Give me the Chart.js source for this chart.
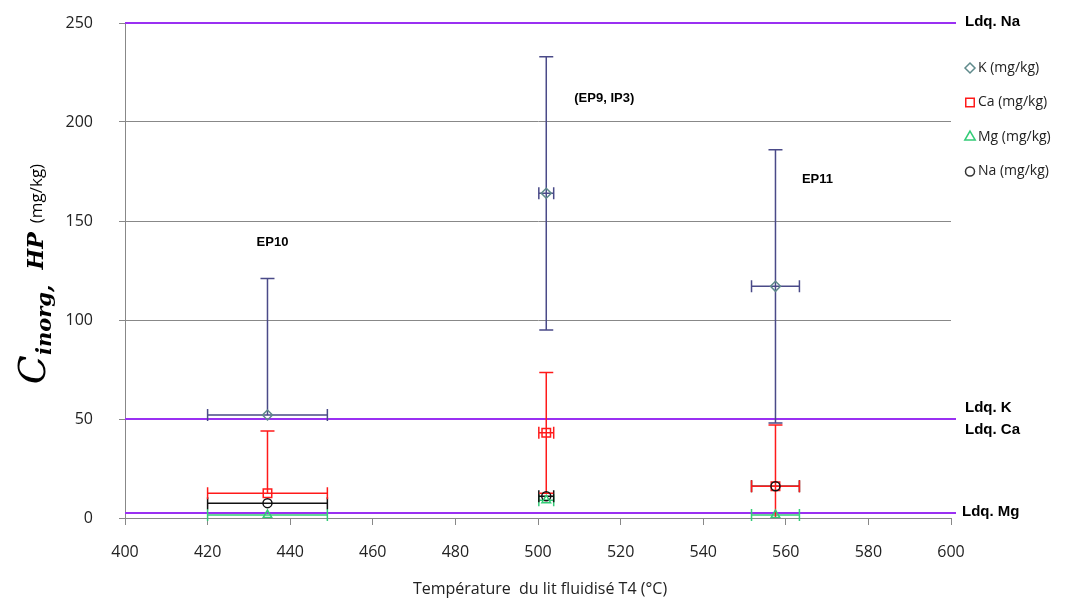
<!DOCTYPE html>
<html>
<head>
<meta charset="utf-8">
<script src="https://cdn.jsdelivr.net/npm/chart.js@4/dist/chart.umd.min.js"></script>
<style>
  html, body { margin: 0; padding: 0; background: #fff; }
  #wrap { width: 1066px; height: 599px; }
</style>
</head>
<body>
<div id="wrap"><canvas id="chart" width="1066" height="599"></canvas></div>
<script>
// valeurs
const tests = ['EP10', '(EP9, IP3)', 'EP11'];
const temps = [434.5, 502, 557.5];
const tempErr = [14.5, 1.8, 5.8];

const kVals = [52, 164, 117];
const kErrPlus = [69, 69, 69];
const kErrMinus = [0, 69, 69];

const caVals = [12.5, 43, 16];
const caErrPlus = [31.5, 30.5, 31];
const caErrMinus = [0, 30.5, 16];

const mgVals = [1.5, 9, 1.5];
const naVals = [7.5, 11, 16];

const ldqNames = ['Ldq. Na', 'Ldq. K', 'Ldq. Mg'];
const ldqVals = [250, 50, 2.5];

const xTicks = [400, 420, 440, 460, 480, 500, 520, 540, 560, 580, 600];
const yTicks = [0, 50, 100, 150, 200, 250];

const colK = '#4a4a88';
const colKpt = '#5f8a8b';
const colCa = '#ff1a1a';
const colMg = '#33cc77';
const colNa = '#111111';
const colLdq = '#9a30f2';

function pts(vals) {
    return temps.map((t, i) => ({ x: t, y: vals[i] }));
}

const errorSets = [
    { vals: mgVals, color: colMg, xErr: tempErr, yPlus: null, yMinus: null },
    { vals: naVals, color: colNa, xErr: tempErr, yPlus: null, yMinus: null },
    { vals: caVals, color: colCa, xErr: tempErr, yPlus: caErrPlus, yMinus: caErrMinus },
    { vals: kVals, color: colK, xErr: tempErr, yPlus: kErrPlus, yMinus: kErrMinus }
];

const extras = {
    id: 'extras',
    beforeDatasetsDraw(chart) {
        const ctx = chart.ctx;
        const xs = chart.scales.x, ys = chart.scales.y;
        const area = chart.chartArea;
        ctx.save();
        // lignes des limites de quantification
        ctx.strokeStyle = colLdq;
        ctx.lineWidth = 2;
        ldqVals.forEach(v => {
            const y = Math.round(ys.getPixelForValue(v));
            ctx.beginPath();
            ctx.moveTo(area.left, y);
            ctx.lineTo(area.right + 5, y);
            ctx.stroke();
        });
        // barres d'erreur
        ctx.lineWidth = 1.5;
        errorSets.forEach(s => {
            ctx.strokeStyle = s.color;
            temps.forEach((t, i) => {
                const px = xs.getPixelForValue(t);
                const py = ys.getPixelForValue(s.vals[i]);
                const x1 = xs.getPixelForValue(t - s.xErr[i]);
                const x2 = xs.getPixelForValue(t + s.xErr[i]);
                ctx.beginPath();
                ctx.moveTo(x1, py); ctx.lineTo(x2, py);
                ctx.moveTo(x1, py - 6); ctx.lineTo(x1, py + 6);
                ctx.moveTo(x2, py - 6); ctx.lineTo(x2, py + 6);
                ctx.stroke();
                if (s.yPlus) {
                    const yTop = ys.getPixelForValue(s.vals[i] + s.yPlus[i]);
                    ctx.beginPath();
                    ctx.moveTo(px, py); ctx.lineTo(px, yTop);
                    ctx.moveTo(px - 7, yTop); ctx.lineTo(px + 7, yTop);
                    ctx.stroke();
                }
                if (s.yMinus && s.yMinus[i] > 0) {
                    const lowV = s.vals[i] - s.yMinus[i];
                    const yBot = ys.getPixelForValue(Math.max(lowV, 0));
                    ctx.beginPath();
                    ctx.moveTo(px, py); ctx.lineTo(px, yBot);
                    if (lowV > 0) { ctx.moveTo(px - 7, yBot); ctx.lineTo(px + 7, yBot); }
                    ctx.stroke();
                }
            });
        });
        ctx.restore();
    },
    afterDraw(chart) {
        const ctx = chart.ctx;
        const xs = chart.scales.x, ys = chart.scales.y;
        const area = chart.chartArea;
        ctx.save();
        ctx.fillStyle = '#000';
        ctx.textBaseline = 'middle';

        // noms des essais
        ctx.font = 'bold 13px "Liberation Sans", Arial, sans-serif';
        ctx.textAlign = 'center';
        ctx.fillText(tests[0], xs.getPixelForValue(temps[0]) + 5, ys.getPixelForValue(139));
        ctx.fillText(tests[1], xs.getPixelForValue(temps[1]) + 58, ys.getPixelForValue(212));
        ctx.fillText(tests[2], xs.getPixelForValue(temps[2]) + 42, ys.getPixelForValue(171));

        // étiquettes Ldq
        ctx.font = 'bold 15px "Liberation Sans", Arial, sans-serif';
        ctx.textAlign = 'left';
        ctx.fillText(ldqNames[0], area.right + 14, ys.getPixelForValue(250) - 1);
        ctx.fillText(ldqNames[1], area.right + 14, ys.getPixelForValue(50) - 11);
        ctx.fillText('Ldq. Ca', area.right + 14, ys.getPixelForValue(50) + 11);
        ctx.fillText(ldqNames[2], area.right + 11, ys.getPixelForValue(2.5) - 1);

        // légende
        const legend = [
            { label: 'K (mg/kg)', style: 'rectRot', color: colKpt, r: 5 },
            { label: 'Ca (mg/kg)', style: 'rect', color: colCa, r: 6 },
            { label: 'Mg (mg/kg)', style: 'triangle', color: colMg, r: 6 },
            { label: 'Na (mg/kg)', style: 'circle', color: '#333', r: 4.5 }
        ];
        ctx.font = '14px "Open Sans", "Liberation Sans", sans-serif';
        legend.forEach((it, i) => {
            const y = 68 + i * 34.5;
            ctx.strokeStyle = it.color;
            ctx.fillStyle = 'rgba(0,0,0,0)';
            ctx.lineWidth = 1.5;
            Chart.helpers.drawPoint(ctx, { pointStyle: it.style, radius: it.r, borderWidth: 1.5 }, 970, y);
            ctx.fillStyle = '#222';
            ctx.fillText(it.label, 978, y);
        });

        // titre de l'axe x
        ctx.fillStyle = '#222';
        ctx.textAlign = 'center';
        ctx.font = '16px "Open Sans", "Liberation Sans", sans-serif';
        ctx.fillText('Température  du lit fluidisé T4 (°C)', 540, 589);

        // titre de l'axe y
        ctx.translate(45, 274);
        ctx.rotate(-Math.PI / 2);
        ctx.textAlign = 'left';
        ctx.textBaseline = 'alphabetic';
        const parts = [
            { t: 'C', f: 'italic 38px "DejaVu Serif", serif', dy: 0 },
            { t: 'inorg,', f: 'italic bold 21px "DejaVu Serif", serif', dy: 6 },
            { t: '  HP', f: 'italic bold 22px "DejaVu Serif", serif', dy: -2 },
            { t: '  (mg/kg)', f: '17px "Open Sans", "Liberation Sans", sans-serif', dy: -3 }
        ];
        let total = 0;
        parts.forEach(p => { ctx.font = p.f; total += ctx.measureText(p.t).width; });
        let cx = -total / 2;
        parts.forEach(p => {
            ctx.font = p.f;
            ctx.fillStyle = '#000';
            ctx.fillText(p.t, cx, p.dy);
            cx += ctx.measureText(p.t).width;
        });
        ctx.restore();
    }
};

new Chart(document.getElementById('chart'), {
    type: 'scatter',
    data: {
        datasets: [
            { label: 'Mg (mg/kg)', data: pts(mgVals), pointStyle: 'triangle', radius: 5, borderColor: colMg, backgroundColor: 'rgba(0,0,0,0)', borderWidth: 1.5 },
            { label: 'Na (mg/kg)', data: pts(naVals), pointStyle: 'circle', radius: 4.5, borderColor: colNa, backgroundColor: 'rgba(0,0,0,0)', borderWidth: 1.5 },
            { label: 'Ca (mg/kg)', data: pts(caVals), pointStyle: 'rect', radius: 6, borderColor: colCa, backgroundColor: 'rgba(0,0,0,0)', borderWidth: 1.5 },
            { label: 'K (mg/kg)', data: pts(kVals), pointStyle: 'rectRot', radius: 5, borderColor: colKpt, backgroundColor: 'rgba(0,0,0,0)', borderWidth: 1.5 }
        ]
    },
    options: {
        responsive: false,
        animation: false,
        layout: { padding: { left: 0, right: 115, top: 23, bottom: 0 } },
        plugins: {
            legend: { display: false },
            tooltip: { enabled: false }
        },
        scales: {
            x: {
                type: 'linear',
                min: 400,
                max: 600,
                afterBuildTicks: axis => { axis.ticks = xTicks.map(v => ({ value: v })); },
                afterFit: axis => { axis.height = 81; axis.paddingLeft = 0; axis.paddingRight = 0; },
                grid: { display: true, drawOnChartArea: false, color: '#888', tickLength: 7 },
                border: { color: '#888', width: 1 },
                ticks: { padding: 18, color: '#222', font: { size: 16, family: '"Open Sans", "Liberation Sans", sans-serif' }, maxRotation: 0 }
            },
            y: {
                type: 'linear',
                min: 0,
                max: 250,
                afterBuildTicks: axis => { axis.ticks = yTicks.map(v => ({ value: v })); },
                afterFit: axis => { axis.width = 125; axis.paddingTop = 0; axis.paddingBottom = 0; },
                grid: { color: '#888', lineWidth: 1, tickLength: 6 },
                border: { color: '#888', width: 1 },
                ticks: { padding: 26, color: '#222', font: { size: 16, family: '"Open Sans", "Liberation Sans", sans-serif' } }
            }
        }
    },
    plugins: [extras]
});
</script>
</body>
</html>
